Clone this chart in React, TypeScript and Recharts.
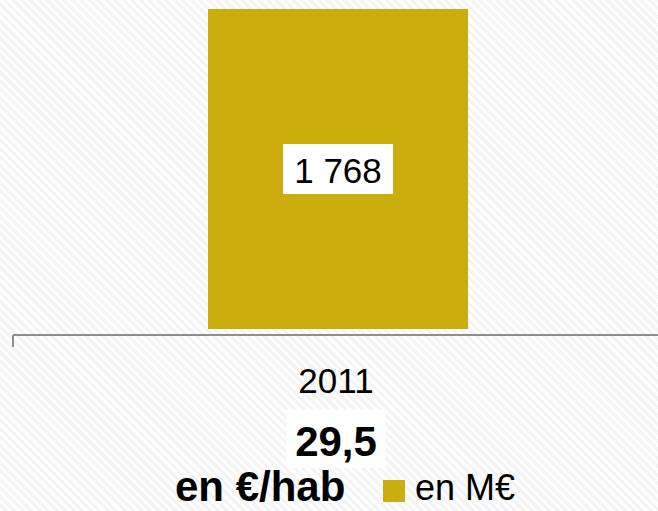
import React from "react";
import { BarChart, Bar, XAxis, YAxis, LabelList } from "recharts";

const years = ["2011"];
const totalsMEur = [1768];
const perInhabitant = [29.5];

const legendLabel = "en M€";
const perInhabitantLabel = "en €/hab";

const data = years.map((year, i) => ({ year, total: totalsMEur[i], perHab: perInhabitant[i] }));

const FONT = "'Liberation Sans', Arial, sans-serif";
const BAR_COLOR = "#CCAD0E";
const AXIS_COLOR = "#8E8E8E";

const fmtThousands = (v: number) => String(v).replace(/\B(?=(\d{3})+(?!\d))/g, " ");
const fmtDecimal = (v: number) => String(v).replace(".", ",");

function ValueLabel(props: any) {
  const { x, y, width, height, value } = props;
  const cx = x + width / 2;
  const cy = y + height / 2;
  return (
    <g>
      <rect x={cx - 55} y={cy - 25} width={110} height={50} fill="#ffffff" />
      <text x={cx} y={cy + 14} textAnchor="middle" fontFamily={FONT} fontSize={35} fill="#000">
        {fmtThousands(value)}
      </text>
    </g>
  );
}

function YearTick(props: any) {
  const { x, y, payload, index, width, visibleTicksCount } = props;
  const row = data[index] ?? data[0];
  const n = visibleTicksCount || data.length;
  const half = width ? width / (2 * n) : 0;
  return (
    <g>
      {half > 0 && (
        <line x1={x - half} y1={y} x2={x - half} y2={y + 12} stroke={AXIS_COLOR} strokeWidth={2} />
      )}
      <text x={x - 2} y={y + 58} textAnchor="middle" fontFamily={FONT} fontSize={35} fill="#000">
        {payload.value}
      </text>
      <rect x={x - 52} y={y + 75} width={100} height={58} fill="#ffffff" />
      <text x={x - 2} y={y + 121} textAnchor="middle" fontFamily={FONT} fontSize={42} fontWeight="bold" fill="#000">
        {fmtDecimal(row.perHab)}
      </text>
    </g>
  );
}

export default function App() {
  return (
    <div
      style={{
        position: "fixed",
        left: 0,
        top: 0,
        width: 658,
        height: 511,
        overflow: "hidden",
        background: "repeating-linear-gradient(45deg, #ffffff 0px, #ffffff 3px, #f4f4f4 3px, #f4f4f4 6px)",
      }}
    >
      <BarChart width={670} height={511} data={data} margin={{ top: 9, right: 7, left: 13, bottom: 0 }}>
        <XAxis
          dataKey="year"
          height={176}
          axisLine={{ stroke: AXIS_COLOR, strokeWidth: 2 }}
          tickLine={false}
          tickSize={0}
          tickMargin={0}
          interval={0}
          tick={<YearTick />}
        />
        <YAxis hide type="number" domain={[-33, 1768]} allowDataOverflow />
        <Bar dataKey="total" fill={BAR_COLOR} barSize={260} isAnimationActive={false}>
          <LabelList dataKey="total" content={<ValueLabel />} />
        </Bar>
      </BarChart>
      <div
        style={{
          position: "absolute",
          left: 175,
          top: 468,
          fontFamily: FONT,
          fontSize: 42,
          fontWeight: "bold",
          color: "#000",
          lineHeight: "38px",
          whiteSpace: "nowrap",
        }}
      >
        {perInhabitantLabel}
      </div>
      <div style={{ position: "absolute", left: 383, top: 480, width: 22, height: 22, background: BAR_COLOR }} />
      <div
        style={{
          position: "absolute",
          left: 415,
          top: 469,
          fontFamily: FONT,
          fontSize: 36,
          color: "#000",
          lineHeight: "38px",
          whiteSpace: "nowrap",
        }}
      >
        {legendLabel}
      </div>
    </div>
  );
}
